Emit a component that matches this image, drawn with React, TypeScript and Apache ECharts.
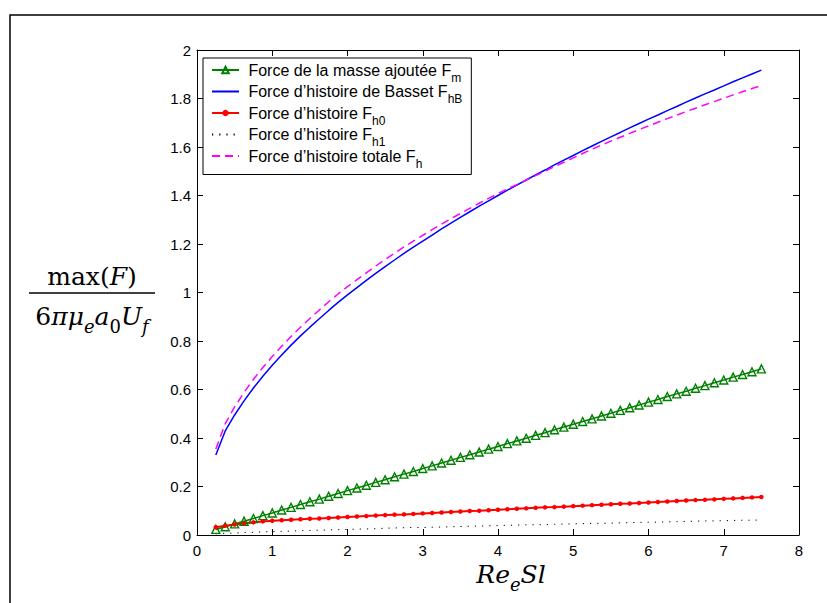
import React, { useEffect, useRef } from 'react';
import * as echarts from 'echarts';

const X = [0.25, 0.375, 0.5, 0.625, 0.75, 0.875, 1,
  1.125, 1.25, 1.375, 1.5, 1.625, 1.75, 1.875, 2,
  2.125, 2.25, 2.375, 2.5, 2.625, 2.75, 2.875, 3,
  3.125, 3.25, 3.375, 3.5, 3.625, 3.75, 3.875, 4,
  4.125, 4.25, 4.375, 4.5, 4.625, 4.75, 4.875, 5,
  5.125, 5.25, 5.375, 5.5, 5.625, 5.75, 5.875, 6,
  6.125, 6.25, 6.375, 6.5, 6.625, 6.75, 6.875, 7,
  7.125, 7.25, 7.375, 7.5];

const F_M = [0.023, 0.034, 0.046, 0.057, 0.068, 0.080, 0.091,
  0.103, 0.114, 0.126, 0.137, 0.148, 0.160, 0.171, 0.183,
  0.194, 0.205, 0.217, 0.228, 0.240, 0.251, 0.262, 0.274,
  0.285, 0.297, 0.308, 0.320, 0.331, 0.342, 0.354, 0.365,
  0.377, 0.388, 0.399, 0.411, 0.422, 0.434, 0.445, 0.457,
  0.468, 0.479, 0.491, 0.502, 0.514, 0.525, 0.536, 0.548,
  0.559, 0.571, 0.582, 0.593, 0.605, 0.616, 0.628, 0.639,
  0.651, 0.662, 0.673, 0.685];

const F_HB = [0.330, 0.429, 0.495, 0.553, 0.606, 0.655, 0.700,
  0.742, 0.783, 0.821, 0.857, 0.892, 0.926, 0.959, 0.990,
  1.020, 1.050, 1.079, 1.107, 1.134, 1.161, 1.187, 1.212,
  1.237, 1.262, 1.286, 1.310, 1.333, 1.356, 1.378, 1.400,
  1.422, 1.443, 1.464, 1.485, 1.505, 1.526, 1.546, 1.565,
  1.585, 1.604, 1.623, 1.642, 1.660, 1.679, 1.697, 1.715,
  1.732, 1.750, 1.767, 1.785, 1.802, 1.819, 1.835, 1.852,
  1.869, 1.885, 1.901, 1.917];

const F_H0 = [0.032, 0.038, 0.043, 0.048, 0.052, 0.056, 0.059,
  0.061, 0.063, 0.065, 0.067, 0.068, 0.070, 0.072, 0.074,
  0.076, 0.078, 0.080, 0.082, 0.084, 0.085, 0.087, 0.089,
  0.091, 0.093, 0.095, 0.097, 0.099, 0.100, 0.102, 0.104,
  0.106, 0.108, 0.110, 0.112, 0.114, 0.115, 0.117, 0.119,
  0.121, 0.123, 0.125, 0.127, 0.129, 0.130, 0.132, 0.134,
  0.136, 0.138, 0.140, 0.142, 0.144, 0.145, 0.147, 0.149,
  0.151, 0.153, 0.155, 0.157];

const F_H1 = [0.005, 0.007, 0.008, 0.010, 0.011, 0.013, 0.014,
  0.015, 0.016, 0.018, 0.019, 0.020, 0.021, 0.022, 0.023,
  0.024, 0.025, 0.026, 0.028, 0.029, 0.030, 0.031, 0.031,
  0.032, 0.033, 0.034, 0.035, 0.036, 0.037, 0.038, 0.039,
  0.040, 0.041, 0.042, 0.042, 0.043, 0.044, 0.045, 0.046,
  0.047, 0.048, 0.048, 0.049, 0.050, 0.051, 0.052, 0.053,
  0.053, 0.054, 0.055, 0.056, 0.057, 0.058, 0.058, 0.059,
  0.060, 0.061, 0.061, 0.062];

const F_H = [0.355, 0.459, 0.528, 0.588, 0.642, 0.691, 0.736,
  0.778, 0.819, 0.857, 0.893, 0.928, 0.962, 0.994, 1.024,
  1.053, 1.081, 1.109, 1.136, 1.162, 1.188, 1.212, 1.236,
  1.259, 1.282, 1.304, 1.326, 1.347, 1.368, 1.388, 1.408,
  1.427, 1.445, 1.464, 1.482, 1.500, 1.519, 1.537, 1.555,
  1.573, 1.591, 1.608, 1.624, 1.640, 1.656, 1.672, 1.687,
  1.702, 1.717, 1.731, 1.746, 1.760, 1.774, 1.787, 1.801,
  1.815, 1.828, 1.841, 1.853];

const LEGEND_MAIN = [
  'Force de la masse ajoutée F',
  'Force d’histoire de Basset F',
  'Force d’histoire F',
  'Force d’histoire F',
  'Force d’histoire totale F',
];
const LEGEND_SUB = ['m', 'hB', 'h0', 'h1', 'h'];

const SANS = 'Liberation Sans, Arial, Helvetica, sans-serif';
const SERIF = 'DejaVu Serif, Liberation Serif, serif';

export default function App() {
  const ref = useRef<HTMLDivElement>(null);

  useEffect(() => {
    if (!ref.current) return;
    const chart = echarts.init(ref.current, null, { renderer: 'svg' });
    const pairs = (ys: number[]) => X.map((x, i) => [x, ys[i]]);
    const names = LEGEND_MAIN.map((m, i) => m + LEGEND_SUB[i]);

    const axisLine = { show: true, onZero: false, lineStyle: { color: '#000', width: 1 } };
    const axisTick = { show: true, inside: true, length: 6, lineStyle: { color: '#000', width: 1 } };
    const tickLabel = { color: '#000', fontSize: 15, fontFamily: SANS };

    const mathRich = {
      r: { fontSize: 25, lineHeight: 26, verticalAlign: 'top', fontFamily: SERIF, fill: '#000' },
      i: { fontSize: 25, lineHeight: 26, verticalAlign: 'top', fontFamily: SERIF, fontStyle: 'italic', fill: '#000' },
      s: { fontSize: 18, lineHeight: 18, verticalAlign: 'top', fontFamily: SERIF, padding: [13, 0, 0, 0], fill: '#000' },
      is: { fontSize: 18, lineHeight: 18, verticalAlign: 'top', fontFamily: SERIF, fontStyle: 'italic', padding: [13, 0, 0, 0], fill: '#000' },
    };

    chart.setOption({
      animation: false,
      backgroundColor: '#fff',
      grid: { left: 197, top: 50, width: 602, height: 485 },
      xAxis: [
        {
          type: 'value', min: 0, max: 8, interval: 1, position: 'bottom',
          axisLine, axisTick, splitLine: { show: false },
          axisLabel: { ...tickLabel, margin: 8 },
        },
        {
          type: 'value', min: 0, max: 8, interval: 1, position: 'top',
          axisLine, axisTick, splitLine: { show: false },
          axisLabel: { show: false },
        },
      ],
      yAxis: [
        {
          type: 'value', min: 0, max: 2, interval: 0.2, position: 'left',
          axisLine, axisTick, splitLine: { show: false },
          axisLabel: { ...tickLabel, margin: 6, formatter: (v: number) => String(Number(v.toFixed(1))) },
        },
        {
          type: 'value', min: 0, max: 2, interval: 0.2, position: 'right',
          axisLine, axisTick, splitLine: { show: false },
          axisLabel: { show: false },
        },
      ],
      legend: {
        orient: 'vertical',
        left: 203,
        top: 58,
        itemWidth: 27,
        itemHeight: 8,
        itemGap: 0,
        padding: [4, 9, 5, 8],
        backgroundColor: '#fff',
        borderColor: '#000',
        borderWidth: 1,
        borderRadius: 0,
        selectedMode: false,
        data: names.map((n, i) => (i === 1 || i === 3 || i === 4 ? { name: n, itemStyle: { opacity: 0 } } : { name: n })),
        formatter: (n: string) => {
          const i = names.indexOf(n);
          return `{m| ${LEGEND_MAIN[i]}}{s|${LEGEND_SUB[i]}}`;
        },
        textStyle: {
          color: '#000',
          fontFamily: SANS,
          fontSize: 16,
          rich: {
            m: { fontSize: 16, lineHeight: 16, verticalAlign: 'top', fontFamily: SANS, color: '#000' },
            s: { fontSize: 12, lineHeight: 12, verticalAlign: 'top', fontFamily: SANS, color: '#000', padding: [9.5, 0, 0, 0] },
          },
        },
      },
      series: [
        {
          name: names[0], type: 'line', data: pairs(F_M),
          symbol: 'triangle', symbolSize: 8, showSymbol: true,
          itemStyle: { color: 'rgba(255,255,255,0)', borderColor: '#008000', borderWidth: 1.4 },
          lineStyle: { color: '#008000', width: 1.5 },
        },
        {
          name: names[1], type: 'line', data: pairs(F_HB),
          symbol: 'none', itemStyle: { color: '#0000ff' },
          lineStyle: { color: '#0000ff', width: 1.5 },
        },
        {
          name: names[2], type: 'line', data: pairs(F_H0),
          symbol: 'circle', symbolSize: 4.5, showSymbol: true,
          itemStyle: { color: '#ff0000' },
          lineStyle: { color: '#ff0000', width: 2 },
        },
        {
          name: names[3], type: 'line', data: pairs(F_H1),
          symbol: 'none', itemStyle: { color: '#000' },
          lineStyle: { color: '#000', width: 1, type: [1.2, 6] },
        },
        {
          name: names[4], type: 'line', data: pairs(F_H),
          symbol: 'none', itemStyle: { color: '#ff00ff' },
          lineStyle: { color: '#ff00ff', width: 1.5, type: [8, 5] },
        },
      ],
      graphic: [
        {
          type: 'rect', silent: true, z: -10,
          shape: { x: 10, y: 15, width: 900, height: 700 },
          style: { fill: 'none', stroke: '#000', lineWidth: 1.5 },
        },
        {
          type: 'text', x: 92, y: 264,
          style: { text: '{r|max(}{i|F}{r|)}', align: 'center', verticalAlign: 'top', rich: mathRich, fill: '#000' },
        },
        {
          type: 'line',
          shape: { x1: 29, y1: 293, x2: 155, y2: 293 },
          style: { stroke: '#000', lineWidth: 1.3 },
        },
        {
          type: 'text', x: 92, y: 304,
          style: { text: '{r|6}{i|πμ}{is|e}{i|a}{s|0}{i|U}{is|f}', align: 'center', verticalAlign: 'top', rich: mathRich, fill: '#000' },
        },
        {
          type: 'text', x: 511, y: 562,
          style: { text: '{i|Re}{is|e}{i|Sl}', align: 'center', verticalAlign: 'top', rich: mathRich, fill: '#000' },
        },
      ],
    });

    return () => chart.dispose();
  }, []);

  return <div ref={ref} style={{ position: 'absolute', left: 0, top: 0, width: 827, height: 603 }} />;
}
